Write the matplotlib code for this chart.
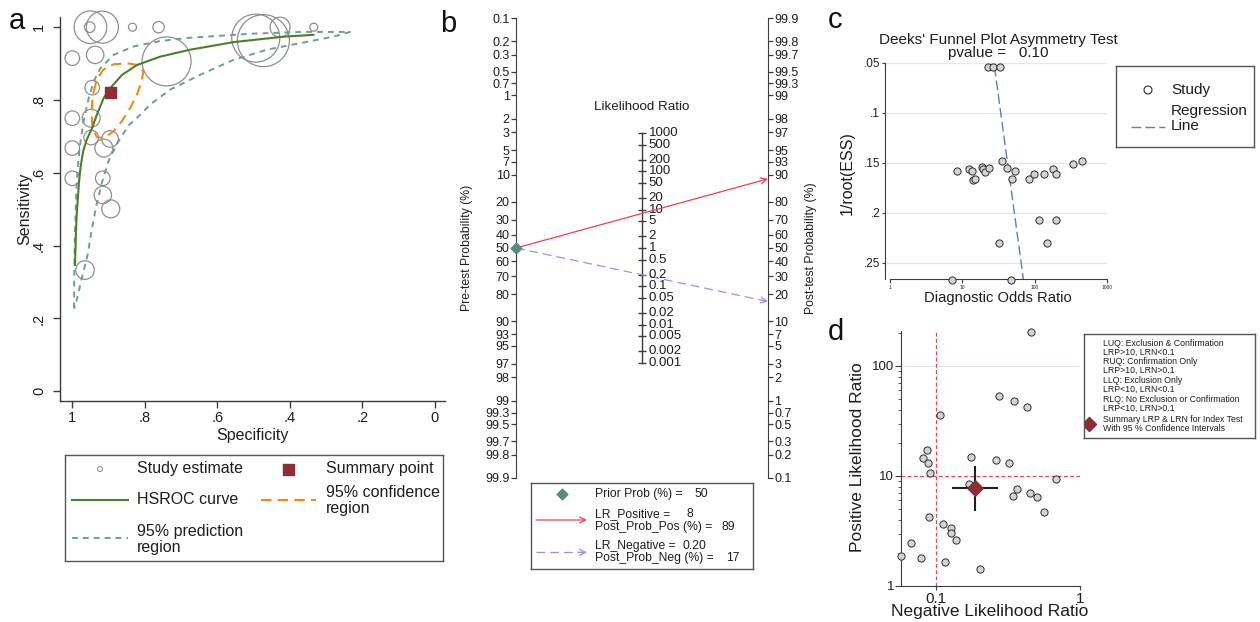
import numpy as np
import matplotlib
matplotlib.use('Agg')
import matplotlib.pyplot as plt
from matplotlib.lines import Line2D
from matplotlib.ticker import FixedLocator, LogLocator, NullFormatter, NullLocator

plt.rcParams['font.family'] = ['Liberation Sans', 'DejaVu Sans']

# ======================= DATA =======================
# (a) HSROC plot
study_spec = [0.952, 0.950, 0.917, 0.834, 0.762, 0.494, 0.473, 0.427, 0.334,
              1.000, 0.937, 0.740, 0.945, 1.000, 0.948, 0.948, 0.896, 0.913,
              1.000, 1.000, 0.916, 0.916, 0.894, 0.965]
study_sens = [1.000, 1.000, 1.000, 1.000, 1.000, 0.970, 0.963, 1.000, 1.000,
              0.915, 0.924, 0.906, 0.834, 0.750, 0.750, 0.697, 0.693, 0.668,
              0.668, 0.585, 0.585, 0.539, 0.501, 0.333]
study_weight = [5.3, 16.3, 16.0, 4.0, 5.7, 24.0, 26.0, 10.0, 4.0,
                7.3, 8.7, 24.5, 7.3, 7.3, 9.0, 7.3, 8.3, 9.0,
                7.3, 7.3, 7.3, 8.7, 9.0, 9.3]

hsroc_spec = [0.9926, 0.990, 0.988, 0.9854, 0.9815, 0.977, 0.970, 0.960, 0.9457, 0.9327,
              0.9137, 0.896, 0.863, 0.822, 0.758, 0.676, 0.555, 0.417, 0.335]
hsroc_sens = [0.347, 0.438, 0.484, 0.521, 0.576, 0.618, 0.660, 0.692, 0.722, 0.759,
              0.805, 0.832, 0.869, 0.896, 0.919, 0.938, 0.959, 0.974, 0.979]

conf_spec = [0.941, 0.933, 0.915, 0.887, 0.850, 0.818, 0.804, 0.809, 0.822,
             0.841, 0.864, 0.887, 0.915, 0.933, 0.944, 0.947, 0.945, 0.941]
conf_sens = [0.823, 0.855, 0.883, 0.898, 0.901, 0.896, 0.878, 0.851, 0.814,
             0.777, 0.741, 0.713, 0.695, 0.699, 0.723, 0.759, 0.796, 0.823]

pred_spec = [0.995, 0.995, 0.9926, 0.988, 0.980, 0.969, 0.955, 0.941, 0.923, 0.886,
             0.831, 0.758, 0.676, 0.509, 0.371, 0.234,
             0.280, 0.372, 0.464, 0.556, 0.648, 0.731, 0.786, 0.812, 0.845, 0.875,
             0.900, 0.917, 0.935, 0.947, 0.958, 0.974, 0.988, 0.995]
pred_sens = [0.228, 0.301, 0.438, 0.576, 0.668, 0.741, 0.805, 0.851, 0.887, 0.924,
             0.947, 0.962, 0.971, 0.982, 0.987, 0.987,
             0.974, 0.956, 0.938, 0.910, 0.869, 0.828, 0.787, 0.760, 0.730, 0.683,
             0.633, 0.578, 0.505, 0.440, 0.374, 0.310, 0.250, 0.228]

summary_spec = 0.897
summary_sens = 0.821

# (b) Fagan nomogram
pre_ticks = [0.1, 0.2, 0.3, 0.5, 0.7, 1, 2, 3, 5, 7, 10, 20, 30, 40, 50, 60, 70, 80,
             90, 93, 95, 97, 98, 99, 99.3, 99.5, 99.7, 99.8, 99.9]
post_ticks = [99.9, 99.8, 99.7, 99.5, 99.3, 99, 98, 97, 95, 93, 90, 80, 70, 60, 50,
              40, 30, 20, 10, 7, 5, 3, 2, 1, 0.7, 0.5, 0.3, 0.2, 0.1]
lr_ticks = [1000, 500, 200, 100, 50, 20, 10, 5, 2, 1, 0.5, 0.2, 0.1, 0.05, 0.02,
            0.01, 0.005, 0.002, 0.001]
prior_prob = 50
lr_positive = 8
lr_negative = 0.20
post_prob_pos = 89
post_prob_neg = 17

# (c) Deeks' funnel plot
deeks_dor = [22.6, 26.3, 33.3, 8.36, 12.5, 13.5, 13.9, 15.0, 18.5, 19.5, 20.6, 23.6,
             35.8, 41.2, 53.7, 49.2, 83.9, 99.4, 136.7, 178.6, 198.6, 334, 451,
             116.6, 198.6, 32.6, 147.6, 7.13, 46.8]
deeks_ess = [0.054, 0.054, 0.054, 0.158, 0.156, 0.158, 0.167, 0.166, 0.154, 0.156,
             0.159, 0.155, 0.148, 0.155, 0.158, 0.166, 0.166, 0.161, 0.161, 0.156,
             0.161, 0.151, 0.148, 0.207, 0.207, 0.230, 0.230, 0.267, 0.267]
reg_ess = [0.054, 0.267]
reg_dor = [27.8, 70.0]
deeks_pvalue = 0.10

# (d) Likelihood ratio scattergram
lrn = [0.458, 0.106, 0.273, 0.349, 0.430, 0.087, 0.081, 0.0885, 0.0904, 0.176,
       0.262, 0.322, 0.685, 0.170, 0.366, 0.341, 0.451, 0.504, 0.560, 0.090,
       0.111, 0.128, 0.128, 0.138, 0.067, 0.057, 0.079, 0.116, 0.201]
lrp = [205, 35.6, 53.8, 48.1, 42.4, 17.4, 14.7, 13.2, 10.6, 15.0,
       14.1, 13.1, 9.46, 8.40, 7.57, 6.58, 6.95, 6.40, 4.71, 4.27,
       3.64, 3.39, 3.01, 2.60, 2.44, 1.87, 1.80, 1.65, 1.42]
sum_lrn, sum_lrn_ci = 0.1875, [0.131, 0.267]
sum_lrp, sum_lrp_ci = 7.7, [4.94, 12.1]

legend_d_lines = ["LUQ: Exclusion & Confirmation", "LRP>10, LRN<0.1",
                  "RUQ: Confirmation Only", "LRP>10, LRN>0.1",
                  "LLQ: Exclusion Only", "LRP<10, LRN<0.1",
                  "RLQ: No Exclusion or Confirmation", "LRP<10, LRN>0.1"]

# ======================= FIGURE =======================
W, H = 1260, 622
fig = plt.figure(figsize=(W / 100, H / 100), dpi=100)


def rect(l, t, r, b):
    return [l / W, 1 - b / H, (r - l) / W, (b - t) / H]


def box_axes(l, t, r, b):
    ax = fig.add_axes(rect(l, t, r, b))
    ax.set_xlim(l, r)
    ax.set_ylim(b, t)
    ax.set_xticks([])
    ax.set_yticks([])
    for sp in ax.spines.values():
        sp.set_color('#555555')
        sp.set_linewidth(1.0)
    return ax


AX = '#3c3c3c'
TXT = '#1e1e1e'
C_GREEN = '#4e7d2b'
C_ORANGE = '#f0891c'
C_TEAL = '#6f9e90'
C_SUM = '#8e2c37'
C_CIRC = '#8f8f8f'
C_RED = '#e8415a'
C_LAV = '#9c91e8'
C_DIA = '#5d8a7b'

# ---------------- panel a ----------------
axa = fig.add_axes(rect(60, 17, 445, 401))
axa.set_xlim(1.034, -0.028)
axa.set_ylim(-0.0266, 1.028)
for sp in ['top', 'right']:
    axa.spines[sp].set_visible(False)
for sp in ['left', 'bottom']:
    axa.spines[sp].set_color(AX)
    axa.spines[sp].set_linewidth(1.0)
axa.scatter(study_spec, study_sens, s=(1.44 * np.array(study_weight)) ** 2,
            facecolors='none', edgecolors=C_CIRC, linewidths=0.9, clip_on=False, zorder=2)
axa.plot(pred_spec, pred_sens, color=C_TEAL, ls=(0, (3, 2.6)), lw=1.4, zorder=3)
axa.plot(conf_spec, conf_sens, color=C_ORANGE, ls=(0, (5, 3)), lw=1.5, zorder=3)
axa.plot(hsroc_spec, hsroc_sens, color=C_GREEN, lw=1.5, zorder=4)
axa.scatter([summary_spec], [summary_sens], marker='s', s=(11 * 0.72) ** 2,
            color=C_SUM, zorder=5)
xt = [1, 0.8, 0.6, 0.4, 0.2, 0]
axa.set_xticks(xt)
axa.set_xticklabels(['1', '.8', '.6', '.4', '.2', '0'])
axa.set_yticks(xt)
axa.set_yticklabels(['1', '.8', '.6', '.4', '.2', '0'])
axa.tick_params(labelsize=10.5, length=5, width=1.0, color=AX, labelcolor=TXT)
axa.tick_params(axis='x', pad=2)
axa.tick_params(axis='y', labelrotation=90, pad=5)
for lbl in axa.get_yticklabels():
    lbl.set_va('center')
axa.set_xlabel('Specificity', fontsize=11.5, color=TXT)
axa.set_ylabel('Sensitivity', fontsize=11.5, color=TXT)
axa.xaxis.set_label_coords(0.5, -0.07)
axa.yaxis.set_label_coords(-0.073, 0.5)

# legend a
la = box_axes(65, 455, 443, 561)
la.scatter([100], [469], s=(5 * 0.72) ** 2, facecolors='none', edgecolors=C_CIRC, linewidths=0.8)
la.text(137, 469, 'Study estimate', fontsize=11.5, va='center', color=TXT)
la.scatter([288], [469], marker='s', s=(11 * 0.72) ** 2, color=C_SUM)
la.text(326, 469, 'Summary point', fontsize=11.5, va='center', color=TXT)
la.add_line(Line2D([72, 128], [500, 500], color=C_GREEN, lw=1.5))
la.text(137, 500, 'HSROC curve', fontsize=11.5, va='center', color=TXT)
la.add_line(Line2D([261, 316], [500, 500], color=C_ORANGE, lw=1.5, ls=(0, (5, 3))))
la.text(326, 500.5, '95% confidence\nregion', fontsize=11.5, va='center', color=TXT, linespacing=1.05)
la.add_line(Line2D([72, 128], [538, 538], color=C_TEAL, lw=1.4, ls=(0, (3, 2.6))))
la.text(137, 539.5, '95% prediction\nregion', fontsize=11.5, va='center', color=TXT, linespacing=1.05)

# ---------------- panel b ----------------


def logit_pct(p):
    p = np.asarray(p, dtype=float) / 100.0
    return np.log(p / (1 - p))


lim = float(logit_pct(99.9))
axb = fig.add_axes(rect(516, 18.3, 768, 477.7))
axb.set_xlim(0, 2)
axb.set_ylim(-lim, lim)
for sp in ['top', 'right', 'bottom']:
    axb.spines[sp].set_visible(False)
axb.spines['left'].set_color(AX)
axb.set_xticks([])
axb.set_yticks(-logit_pct(pre_ticks))
axb.set_yticklabels(['%g' % v for v in pre_ticks])
axb.tick_params(axis='y', labelsize=9, length=3.5, width=0.9, color=AX, labelcolor=TXT, pad=1)
axb.set_ylabel('Pre-test Probability (%)', fontsize=8.8, color=TXT)
axb.yaxis.set_label_coords(-0.17, 0.5)
axb.patch.set_alpha(0)

axr = axb.twinx()
axr.set_ylim(-lim, lim)
for sp in ['top', 'left', 'bottom']:
    axr.spines[sp].set_visible(False)
axr.spines['right'].set_color(AX)
axr.set_yticks(logit_pct(post_ticks))
axr.set_yticklabels(['%g' % v for v in post_ticks])
axr.tick_params(axis='y', labelsize=9, length=3.5, width=0.9, color=AX, labelcolor=TXT, pad=1)
axr.set_ylabel('Post-test Probability (%)', fontsize=8.8, color=TXT)
axr.yaxis.set_label_coords(1.147, 0.5)

lr_y = np.log(np.array(lr_ticks, dtype=float)) / 2
axb.plot([1, 1], [lr_y.max(), lr_y.min()], color=AX, lw=1.0)
axb.plot(np.ones_like(lr_y), lr_y, ls='none', marker='_', ms=6, mew=1.0, color=AX)
for v, y in zip(lr_ticks, lr_y):
    axb.text(1.052, y, '%g' % v, fontsize=9.5, va='center', ha='left', color=TXT)
axb.text(0.5, 0.806, 'Likelihood Ratio', transform=axb.transAxes, fontsize=9.6,
         ha='center', va='center', color=TXT)

y0 = -float(logit_pct(prior_prob))
y_pos = -y0 + np.log(lr_positive)
y_neg = -y0 + np.log(lr_negative)
axb.annotate('', xy=(2, y_pos), xytext=(0, y0),
             arrowprops=dict(arrowstyle='->', color=C_RED, lw=0.9, shrinkA=0, shrinkB=0,
                             mutation_scale=11), annotation_clip=False)
axb.plot([0, 2], [y0, y_neg], color=C_LAV, lw=0.9, ls=(0, (7, 4)))
axb.annotate('', xy=(2, y_neg), xytext=(1.95, y0 + (y_neg - y0) * 0.975),
             arrowprops=dict(arrowstyle='->', color=C_LAV, lw=0.9, shrinkA=0, shrinkB=0,
                             mutation_scale=11), annotation_clip=False)
axb.scatter([0], [y0], marker='D', s=30, color=C_DIA, zorder=6, clip_on=False)

# legend b
lb = box_axes(531, 483, 753, 569)
lb.scatter([561.7], [494.3], marker='D', s=30, color=C_DIA)
lb.text(595, 494.3, 'Prior Prob (%) =', fontsize=8.7, va='center', color=TXT)
lb.text(708, 494.3, '%d' % prior_prob, fontsize=8.7, va='center', ha='right', color=TXT)
lb.annotate('', xy=(587, 520), xytext=(536, 520),
            arrowprops=dict(arrowstyle='->', color=C_RED, lw=0.9, shrinkA=0, shrinkB=0,
                            mutation_scale=11))
lb.text(595, 514, 'LR_Positive =', fontsize=8.7, va='center', color=TXT)
lb.text(693, 514, '%g' % lr_positive, fontsize=8.7, va='center', ha='right', color=TXT)
lb.text(595, 526.7, 'Post_Prob_Pos (%) =', fontsize=8.7, va='center', color=TXT)
lb.text(735, 526.7, '%d' % post_prob_pos, fontsize=8.7, va='center', ha='right', color=TXT)
lb.add_line(Line2D([536, 584], [552.3, 552.3], color=C_LAV, lw=0.9, ls=(0, (7, 4))))
lb.annotate('', xy=(587, 552.3), xytext=(578, 552.3),
            arrowprops=dict(arrowstyle='->', color=C_LAV, lw=0.9, shrinkA=0, shrinkB=0,
                            mutation_scale=11))
lb.text(595, 546, 'LR_Negative =', fontsize=8.7, va='center', color=TXT)
lb.text(706, 546, '%.2f' % lr_negative, fontsize=8.7, va='center', ha='right', color=TXT)
lb.text(595, 558.3, 'Post_Prob_Neg (%) =', fontsize=8.7, va='center', color=TXT)
lb.text(740, 558.3, '%d' % post_prob_neg, fontsize=8.7, va='center', ha='right', color=TXT)

# ---------------- panel c ----------------
axc = fig.add_axes(rect(885, 62.7, 1107, 279.3))
axc.set_xscale('log')
axc.set_xlim(0.853, 1000)
axc.set_ylim(0.2666, 0.05)
for sp in ['top', 'right']:
    axc.spines[sp].set_visible(False)
for sp in ['left', 'bottom']:
    axc.spines[sp].set_color(AX)
axc.spines['bottom'].set_bounds(1, 1000)
yt_c = [0.05, 0.1, 0.15, 0.2, 0.25]
for y in yt_c:
    axc.axhline(y, color='#dcebf2', lw=0.9, zorder=0)
axc.set_yticks(yt_c)
axc.set_yticklabels(['.05', '.1', '.15', '.2', '.25'])
axc.tick_params(axis='y', labelsize=8.5, length=2.5, color=AX, labelcolor=TXT, pad=1)
axc.xaxis.set_major_locator(FixedLocator([1, 10, 100, 1000]))
axc.xaxis.set_minor_locator(NullLocator())
axc.set_xticklabels(['1', '10', '100', '1000'])
axc.tick_params(axis='x', labelsize=3.5, length=3, color=AX, labelcolor=TXT, pad=1)
axc.plot(reg_dor, reg_ess, color='#5f82a8', ls=(0, (7, 3)), lw=1.0, zorder=2, clip_on=False)
axc.scatter(deeks_dor, deeks_ess, s=(7.2 * 0.72) ** 2, facecolors='#d4d4d4',
            edgecolors='#2e2e2e', linewidths=0.7, zorder=3, clip_on=False)
axc.set_title("Deeks' Funnel Plot Asymmetry Test\npvalue =   %.2f" % deeks_pvalue,
              fontsize=11, color=TXT, linespacing=0.95, pad=4, x=0.51)
axc.set_ylabel('1/root(ESS)', fontsize=11.5, color=TXT)
axc.yaxis.set_label_coords(-0.135, 0.49)
axc.set_xlabel('Diagnostic Odds Ratio', fontsize=10.6, color=TXT)
axc.xaxis.set_label_coords(0.51, -0.054)

lc = box_axes(1116, 66, 1254, 147)
lc.scatter([1148], [90], s=(8 * 0.72) ** 2, facecolors='none', edgecolors='#2e2e2e', linewidths=0.8)
lc.text(1171, 90, 'Study', fontsize=11, va='center', color=TXT)
lc.add_line(Line2D([1131, 1165], [127, 127], color='#5f82a8', lw=1.0, ls=(0, (7, 3))))
lc.text(1171, 118.5, 'Regression\nLine', fontsize=11, va='center', color=TXT, linespacing=1.1)

# ---------------- panel d ----------------
axd = fig.add_axes(rect(901, 331, 1080, 586))
axd.set_xscale('log')
axd.set_yscale('log')
axd.set_xlim(0.0571, 1)
axd.set_ylim(1, 208)
for sp in ['top', 'right']:
    axd.spines[sp].set_visible(False)
for sp in ['left', 'bottom']:
    axd.spines[sp].set_color(AX)
axd.axhline(100, color='#dcebf2', lw=0.9, zorder=0)
axd.axhline(10, color='#e2465e', lw=0.9, ls=(0, (3, 2)), zorder=1)
axd.axvline(0.1, color='#e2465e', lw=0.9, ls=(0, (3, 2)), zorder=1)
axd.xaxis.set_major_locator(FixedLocator([0.1, 1]))
axd.xaxis.set_minor_locator(NullLocator())
axd.set_xticklabels(['0.1', '1'])
axd.yaxis.set_major_locator(FixedLocator([1, 10, 100]))
axd.yaxis.set_minor_locator(LogLocator(base=10, subs=np.arange(2, 10)))
axd.yaxis.set_minor_formatter(NullFormatter())
axd.set_yticklabels(['1', '10', '100'])
axd.tick_params(axis='x', labelsize=11, length=3, color=AX, labelcolor=TXT, pad=1)
axd.tick_params(axis='y', labelsize=9.5, length=4, color=AX, labelcolor=TXT, pad=1)
axd.tick_params(axis='y', which='minor', length=2, color=AX)
axd.scatter(lrn, lrp, s=(7.2 * 0.72) ** 2, facecolors='#d4d4d4', edgecolors='#2e2e2e',
            linewidths=0.7, zorder=3, clip_on=False)
axd.plot(sum_lrn_ci, [sum_lrp, sum_lrp], color='#202020', lw=1.5, zorder=4)
axd.plot([sum_lrn, sum_lrn], sum_lrp_ci, color='#202020', lw=1.5, zorder=4)
axd.scatter([sum_lrn], [sum_lrp], marker='D', s=(11 * 0.72) ** 2, color=C_SUM, zorder=5)
axd.set_ylabel('Positive Likelihood Ratio', fontsize=12.5, color=TXT)
axd.yaxis.set_label_coords(-0.20, 0.506)
axd.set_xlabel('Negative Likelihood Ratio', fontsize=12.5, color=TXT)
axd.xaxis.set_label_coords(0.497, -0.07)

ld = box_axes(1084, 334, 1255, 438)
line_y = [343, 352, 361.5, 370.5, 380.5, 389.5, 399, 408]
for txt, y in zip(legend_d_lines, line_y):
    ld.text(1103, y, txt, fontsize=6.3, va='center', color=TXT)
ld.scatter([1088.5], [424], marker='D', s=(10 * 0.72) ** 2, color=C_SUM)
ld.text(1103, 420, 'Summary LRP & LRN for Index Test', fontsize=6.3, va='center', color=TXT)
ld.text(1103, 428.5, 'With 95 % Confidence Intervals', fontsize=6.3, va='center', color=TXT)

# ---------------- panel letters ----------------
for letter, x, y in [('a', 9, 29), ('b', 440, 32), ('c', 828, 28), ('d', 828, 340)]:
    fig.text(x / W, 1 - y / H, letter, fontsize=21, ha='left', va='baseline', color='#111111')

fig.savefig('out.png', dpi=100)
